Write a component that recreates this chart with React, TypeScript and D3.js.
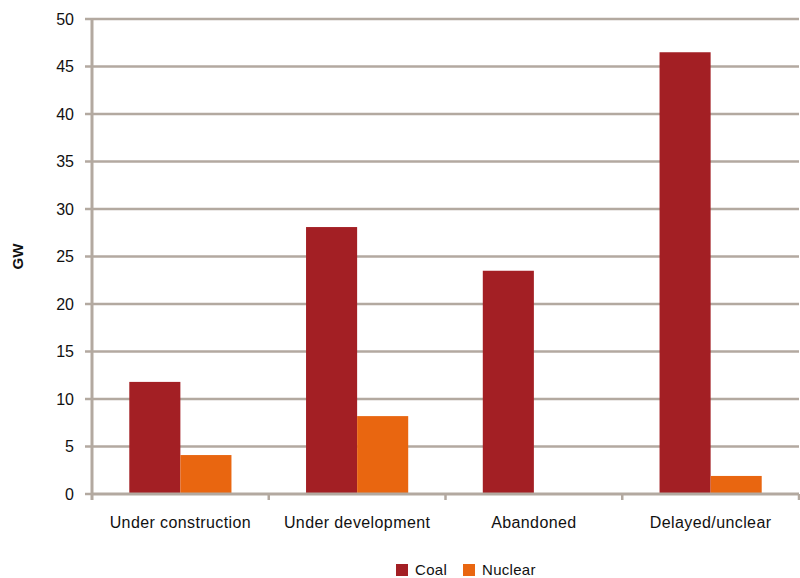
import React from "react";
import * as d3 from "d3";

const categories = ["Under construction", "Under development", "Abandoned", "Delayed/unclear"];
const seriesNames = ["Coal", "Nuclear"];
const coal = [11.8, 28.1, 23.5, 46.5];
const nuclear = [4.1, 8.2, 0, 1.9];
const yTicks = [0, 5, 10, 15, 20, 25, 30, 35, 40, 45, 50];
const colors = ["#A31F24", "#E96610"];

export default function App() {
  const W = 800, H = 578;
  const left = 92, right = 799, top = 19, bottom = 494;
  const y = d3.scaleLinear().domain([0, 50]).range([bottom, top]);
  const x = d3.scaleBand().domain(categories).range([left, right]).paddingInner(0).paddingOuter(0);
  const inner = d3.scaleBand().domain(seriesNames).range([0, x.bandwidth()]).paddingOuter(0.73).paddingInner(0);
  const series = [coal, nuclear];
  const grid = "#B3A9A0";
  const font = "'Liberation Sans', Arial, sans-serif";
  return (
    <svg width={W} height={H} style={{ position: "absolute", left: 0, top: 0 }} fontFamily={font}>
      <rect width={W} height={H} fill="#fff" />
      {yTicks.map(t => (
        <g key={t}>
          {t > 0 && <line x1={left} x2={right} y1={y(t)} y2={y(t)} stroke={grid} strokeWidth={2.5} />}
          <line x1={left - 7} x2={left} y1={y(t)} y2={y(t)} stroke={grid} strokeWidth={2.5} />
          <text x={74} y={y(t)} dy="0.35em" textAnchor="end" fontSize={16} fill="#111">{t}</text>
        </g>
      ))}
      {categories.map((c, i) => (
        <g key={c}>
          {series.map((s, j) => s[i] > 0 && (
            <rect key={j} x={(x(c) as number) + (inner(seriesNames[j]) as number)} y={y(s[i])}
              width={inner.bandwidth()} height={y(0) - y(s[i])} fill={colors[j]} />
          ))}
          <text x={(x(c) as number) + x.bandwidth() / 2} y={528} textAnchor="middle" fontSize={16} letterSpacing={0.4} fill="#111">{c}</text>
        </g>
      ))}
      <line x1={left} x2={left} y1={top - 1} y2={bottom + 6} stroke={grid} strokeWidth={3} />
      <line x1={left} x2={right} y1={bottom} y2={bottom} stroke={grid} strokeWidth={3} />
      {categories.map((c, i) => (
        <line key={c} x1={(x(c) as number) + x.bandwidth()} x2={(x(c) as number) + x.bandwidth()} y1={bottom} y2={bottom + 6} stroke={grid} strokeWidth={2.5} />
      ))}
      <text transform={`translate(23,${(top + bottom) / 2}) rotate(-90)`} textAnchor="middle" fontSize={15} fontWeight="bold" fill="#111">GW</text>
      {seriesNames.map((n, j) => {
        const lx = j === 0 ? 396 : 463;
        return (
          <g key={n}>
            <rect x={lx} y={564} width={12} height={12} fill={colors[j]} />
            <text x={lx + 19} y={575} fontSize={15} letterSpacing={0.3} fill="#111">{n}</text>
          </g>
        );
      })}
    </svg>
  );
}
